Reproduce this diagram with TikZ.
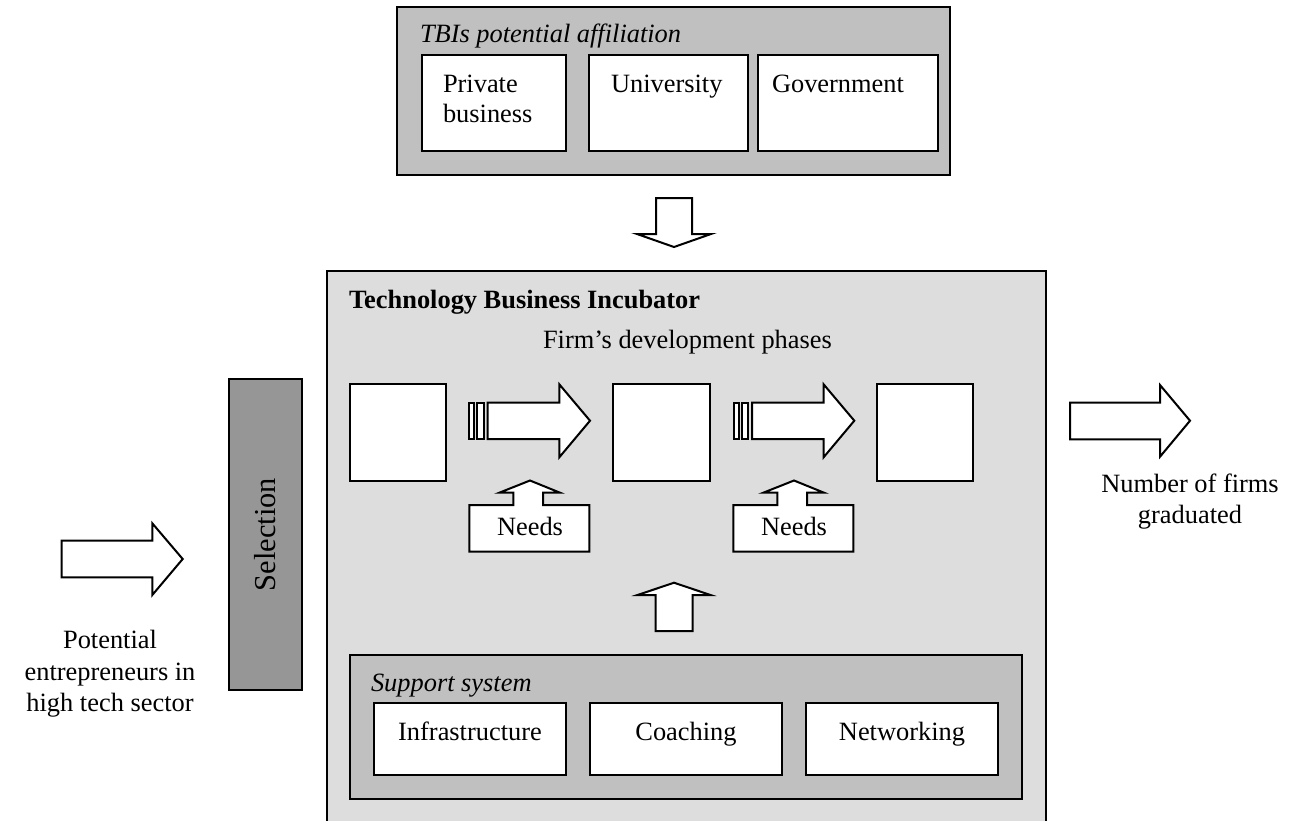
\documentclass[tikz,border=0pt]{standalone}
\usepackage{fontspec}
\setmainfont{Liberation Serif}
\definecolor{gtop}{HTML}{C0C0C0}
\definecolor{gtbi}{HTML}{DDDDDD}
\definecolor{gsel}{HTML}{969696}
\newcommand{\dgfont}{\fontsize{13.2}{16}\selectfont}
\begin{document}
\begin{tikzpicture}[x=0.5pt,y=-0.5pt,line width=1pt,
  every node/.style={inner sep=0pt,font=\dgfont},
  box/.style={draw,fill=white},
  panel/.style={draw,fill=gtop},
  blockarrow/.style={draw,fill=white,line join=miter},
  txt/.style={anchor=base},
  txtw/.style={anchor=base west}]
\useasboundingbox (0,0) rectangle (1293,820);
\clip (0,0) rectangle (1293,820);

% ---- top panel: TBIs potential affiliation
\node[panel,minimum width=276.5pt,minimum height=84pt] (aff) at (673.5,91) {};
\node[txtw,font=\dgfont\itshape] (afft) at (419,42) {TBIs potential affiliation};
\node[box,minimum width=72pt,minimum height=48pt] (priv) at (494,103) {};
\node[box,minimum width=79.5pt,minimum height=48pt] (univ) at (668.5,103) {};
\node[box,minimum width=90pt,minimum height=48pt] (gov) at (848,103) {};
\node[txtw] (privt1) at (442,92) {Private};
\node[txtw] (privt2) at (442,122) {business};
\node[txtw] (univt) at (610,92) {University};
\node[txtw] (govt) at (771,92) {Government};

% ---- down arrow
\draw[blockarrow] (656,198) -- (692,198) -- (692,234) -- (711,234) -- (674,247)
  -- (637,234) -- (656,234) -- cycle;

% ---- TBI box
\node[draw,fill=gtbi,minimum width=359.5pt,minimum height=284.5pt] (tbi) at (686.5,555.5) {};
\node[txtw,font=\dgfont\bfseries] (tbit) at (348,308) {Technology Business Incubator};
\node[txtw] (phases) at (542,348) {Firm’s development phases};

% phase boxes
\node[box,minimum width=48pt,minimum height=48.5pt] (ph1) at (398,432.5) {};
\node[box,minimum width=48.5pt,minimum height=48.5pt] (ph2) at (661.5,432.5) {};
\node[box,minimum width=48pt,minimum height=48.5pt] (ph3) at (925,432.5) {};

% striped arrows between phases
\foreach \dx in {0,264.3}{
  \begin{scope}[xshift=\dx*0.5pt]
    \draw[blockarrow] (469.3,402.7) rectangle (474.3,439);
    \draw[blockarrow] (477.3,402.7) rectangle (484,439);
    \draw[blockarrow] (487.7,402.7) -- (559.3,402.7) -- (559.3,384.3) -- (590,420.7)
      -- (559.3,457.3) -- (559.3,439) -- (487.7,439) -- cycle;
  \end{scope}
}

% Needs callouts
\foreach \dx/\nm in {0/needs1,264/needs2}{
  \begin{scope}[xshift=\dx*0.5pt]
    \draw[blockarrow] (469.3,505) -- (513.3,505) -- (513.3,492.7) -- (499.3,492.7)
      -- (530,480.5) -- (560,492.7) -- (543,492.7) -- (543,505) -- (589.3,505)
      -- (589.3,551.7) -- (469.3,551.7) -- cycle;
    \node[txt] (\nm) at (530,535) {Needs};
  \end{scope}
}

% up arrow from support system
\draw[blockarrow] (655.5,631) -- (692.5,631) -- (692.5,595) -- (710.5,595) -- (674,582.7)
  -- (637.5,595) -- (655.5,595) -- cycle;

% support system panel
\node[panel,minimum width=336pt,minimum height=72pt] (sup) at (686,727) {};
\node[txtw,font=\dgfont\itshape] (supt) at (370,691) {Support system};
\node[box,minimum width=96pt,minimum height=36pt] (infra) at (470,739) {};
\node[box,minimum width=96pt,minimum height=36pt] (coach) at (686,739) {};
\node[box,minimum width=96pt,minimum height=36pt] (netw) at (902,739) {};
\node[txt] (infrat) at (470,740) {Infrastructure};
\node[txt] (coacht) at (686,740) {Coaching};
\node[txt] (netwt) at (902,740) {Networking};

% ---- selection bar
\node[draw,fill=gsel,minimum width=36.5pt,minimum height=155.5pt] (sel) at (265.5,534.5) {};
\node[rotate=90,font=\fontsize{15.2}{18}\selectfont] (selt) at (sel.center) {Selection};

% ---- input arrow
\draw[blockarrow] (61.7,540.7) -- (152.3,540.7) -- (152.3,523.3) -- (182.7,559)
  -- (152.3,595) -- (152.3,577.3) -- (61.7,577.3) -- cycle;
\node[txt] (in1) at (110,648) {Potential};
\node[txt] (in2) at (110,680) {entrepreneurs in};
\node[txt] (in3) at (110,711) {high tech sector};

% ---- output arrow
\draw[blockarrow] (1070,402.7) -- (1160,402.7) -- (1160,385) -- (1190,420.7)
  -- (1160,456.7) -- (1160,439.3) -- (1070,439.3) -- cycle;
\node[txt] (out1) at (1190,492) {Number of firms};
\node[txt] (out2) at (1190,523) {graduated};
\end{tikzpicture}
\end{document}
